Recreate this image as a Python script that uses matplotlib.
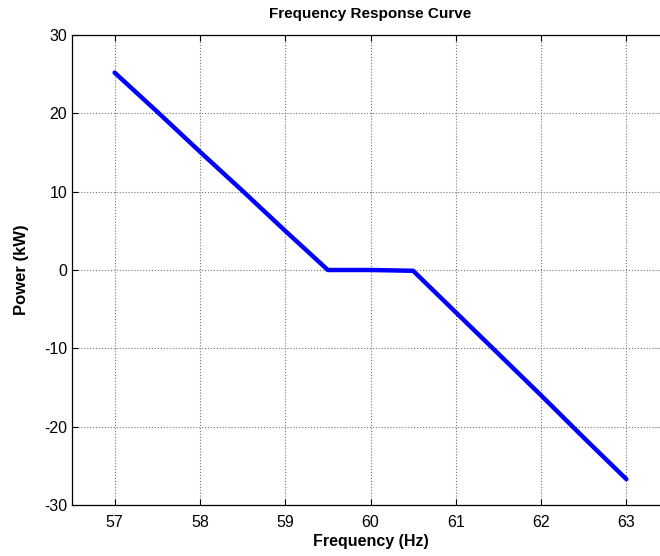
import matplotlib
matplotlib.use("Agg")
import matplotlib.pyplot as plt

# frequency response curve
freq_hz = [57.0, 57.5, 58.0, 58.5, 59.0, 59.5, 60.0, 60.5, 61.0, 61.5, 62.0, 62.5, 63.0]
power_kw = [25.2, 20.2, 15.1, 10.1, 5.0, 0.0, 0.0, -0.1, -5.4, -10.7, -16.0, -21.4, -26.7]
x_ticks = [57, 58, 59, 60, 61, 62, 63]
y_ticks = [-30, -20, -10, 0, 10, 20, 30]

plt.rcParams["font.family"] = ["Liberation Sans", "DejaVu Sans"]
plt.rcParams["axes.unicode_minus"] = False

fig = plt.figure(figsize=(6.6, 5.56), dpi=100)
# axes run past the right edge, as in the cropped original
ax = fig.add_axes([72 / 660, 51 / 556, 597 / 660, 470 / 556])
ax.plot(freq_hz, power_kw, color=(0, 0, 1), lw=3.2, solid_capstyle="round")

ax.set_xlim(56.5, 63.5)
ax.set_ylim(-30, 30)
ax.set_xticks(x_ticks)
ax.set_yticks(y_ticks)
ax.grid(True, color="0.45", ls=":", lw=0.8)
ax.tick_params(direction="in", top=True, right=True, length=4, labelsize=11.5, width=0.8)
ax.tick_params(axis="x", pad=7)
for s in ax.spines.values():
    s.set_linewidth(0.9)

ax.set_title("Frequency Response Curve", fontsize=11, fontweight="bold", pad=12)
ax.set_xlabel("Frequency (Hz)", fontsize=11.5, fontweight="bold", labelpad=3)
ax.set_ylabel("Power (kW)", fontsize=12, fontweight="bold", labelpad=11)

fig.savefig("out.png", dpi=100)
